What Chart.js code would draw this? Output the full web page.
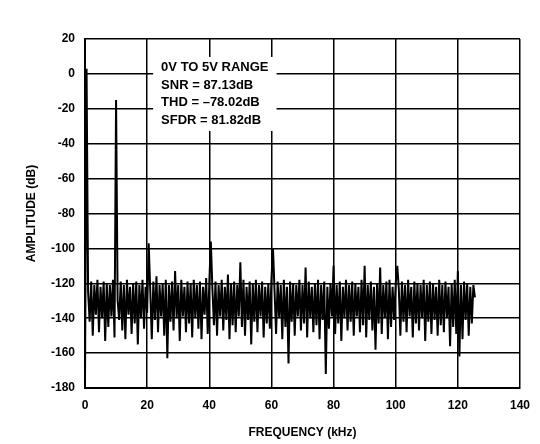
<!DOCTYPE html>
<html><head><meta charset="utf-8">
<script src="https://cdn.jsdelivr.net/npm/chart.js@4"></script>
<style>html,body{margin:0;padding:0;background:#fff}#w{width:540px;height:444px}</style>
</head><body><div id="w"><canvas id="c"></canvas></div>
<script>
const xStepKHz = 0.5;
const amplitudeDb = [
-178,3,-125,-142,-119,-150,-121,-138,-118,-148,
-122,-140,-119,-153,-120,-145,-121,-139,-118,-151,
-15,-130,-141,-119,-147,-121,-152,-118,-138,-122,
-149,-120,-143,-119,-155,-121,-140,-118,-146,-122,
-137,-97,-124,-152,-119,-141,-116,-148,-121,-139,
-120,-150,-118,-163,-121,-142,-119,-147,-113,-140,
-121,-153,-118,-139,-122,-148,-119,-143,-120,-151,
-118,-140,-121,-146,-119,-152,-122,-138,-117,-149,
-120,-96,-123,-144,-119,-150,-121,-139,-118,-147,
-122,-141,-115,-152,-120,-144,-119,-148,-121,-139,
-108,-145,-118,-150,-122,-141,-119,-155,-120,-142,
-118,-148,-121,-139,-119,-151,-122,-143,-120,-146,
-118,-100,-124,-149,-119,-140,-121,-152,-118,-145,
-122,-166,-119,-142,-120,-150,-121,-139,-118,-147,
-121,-143,-111,-151,-119,-140,-122,-148,-120,-144,
-118,-152,-121,-141,-119,-172,-122,-146,-120,-139,
-110,-149,-121,-143,-119,-153,-122,-140,-118,-147,
-121,-142,-119,-150,-120,-139,-122,-148,-118,-144,
-110,-151,-121,-141,-119,-147,-122,-158,-120,-143,
-111,-149,-121,-140,-119,-152,-118,-145,-122,-141,
-120,-110,-123,-150,-119,-142,-121,-148,-118,-139,
-122,-151,-119,-143,-120,-147,-121,-140,-118,-153,
-121,-142,-119,-149,-120,-141,-122,-150,-118,-144,
-121,-148,-119,-140,-122,-156,-120,-145,-118,-149,
-113,-162,-121,-152,-119,-141,-120,-150,-122,-143,-121,-128
];
const annotationLines = ["0V TO 5V RANGE","SNR = 87.13dB","THD = \u201378.02dB","SFDR = 81.82dB"];
const points = amplitudeDb.map((v,i)=>({x:i*xStepKHz,y:v}));
const font = {family:"Liberation Sans, Arial", weight:"bold", size:12};
const annot = {id:'annot', afterDatasetsDraw(ch){
  const c=ch.ctx, xs=ch.scales.x, ys=ch.scales.y;
  const x0=xs.getPixelForValue(24.5), y0=ys.getPixelForValue(8);
  c.save(); c.font="bold 13px Liberation Sans, Arial";
  const w=Math.max(...annotationLines.map(t=>c.measureText(t).width));
  c.fillStyle="#fff"; c.fillRect(x0-8,y0-3,w+16,annotationLines.length*17.5+4);
  c.fillStyle="#000"; c.textBaseline="top";
  annotationLines.forEach((t,i)=>c.fillText(t,x0,y0+i*17.5+1));
  c.restore();
}};
new Chart(document.getElementById('c'),{
  type:'line',
  data:{datasets:[{data:points,borderColor:'#000',borderWidth:2,pointRadius:0,tension:0}]},
  options:{animation:false,responsive:true,maintainAspectRatio:false,
    layout:{padding:{top:39,right:18,left:20,bottom:0}},
    plugins:{legend:{display:false},tooltip:{enabled:false}},
    scales:{
      x:{type:'linear',min:0,max:140,
        ticks:{stepSize:20,color:'#000',font,padding:10},
        grid:{color:'#000',lineWidth:1.5,drawTicks:false},border:{color:'#000',width:2},
        title:{display:true,text:'FREQUENCY (kHz)',color:'#000',font,padding:{top:4}},
        afterFit(s){s.height=56;}},
      y:{min:-180,max:20,
        ticks:{stepSize:20,color:'#000',font,padding:10},
        grid:{color:'#000',lineWidth:1.5,drawTicks:false},border:{color:'#000',width:2},
        title:{display:true,text:'AMPLITUDE (dB)',color:'#000',font},
        afterFit(s){s.width=65;}}
    }},
  plugins:[annot]
});
</script></body></html>
